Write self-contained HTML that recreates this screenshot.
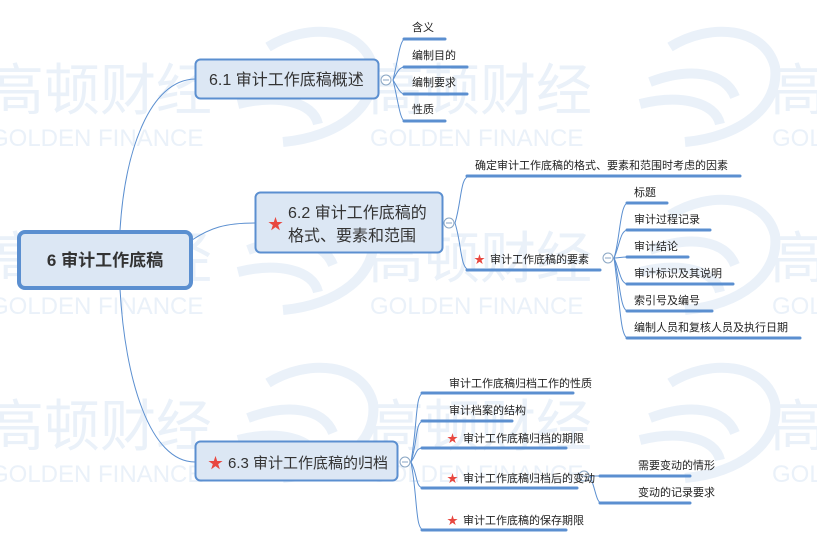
<!DOCTYPE html>
<html><head><meta charset="utf-8"><style>
html,body{margin:0;padding:0;background:#fff;}
svg{display:block;font-family:"Liberation Sans","Noto Sans CJK SC",sans-serif;}
</style></head><body>
<svg width="817" height="546" viewBox="0 0 817 546" xmlns="http://www.w3.org/2000/svg">
<defs>
<g id="wm">
 <path d="M-120,20 C-80,5 -45,10 -35,35" fill="none" stroke="#eaf1f9" stroke-width="10"/>
 <path d="M-130,42 C-90,32 -55,40 -50,62" fill="none" stroke="#eaf1f9" stroke-width="10"/>
 <path d="M-100,-15 C-60,-40 -5,-35 5,5 C10,45 -30,75 -85,80" fill="none" stroke="#eaf1f9" stroke-width="10"/>
 <text x="0" y="48" font-size="56" fill="#eaf1f9">高顿财经</text>
 <text x="2" y="84" font-size="24" fill="#eaf1f9">GOLDEN FINANCE</text>
</g>
</defs>
<g>
 <use href="#wm" x="-12" y="62"/><use href="#wm" x="368" y="62"/><use href="#wm" x="770" y="62"/>
 <use href="#wm" x="-12" y="230"/><use href="#wm" x="368" y="230"/><use href="#wm" x="770" y="230"/>
 <use href="#wm" x="-12" y="398"/><use href="#wm" x="368" y="398"/><use href="#wm" x="770" y="398"/>
</g>
<g fill="none" stroke="#5b8fd0" stroke-width="1">
 <path d="M120,230 C125,150 150,80 195,79"/>
 <path d="M192,240 C210,228 225,223 255,223"/>
 <path d="M120,289 C125,380 150,462 195,462"/>
 <path d="M393,80 C398,60 400,39 405,39"/>
 <path d="M393,80 C398,70 400,67 405,67"/>
 <path d="M393,80 C398,88 400,94 405,94"/>
 <path d="M393,80 C398,100 400,121 405,121"/>
 <path d="M455,223 C462,200 460,176 470,176"/>
 <path d="M455,223 C462,245 460,270 470,270"/>
 <path d="M614,258 C620,240 620,203 628,203"/>
 <path d="M614,258 C620,245 620,230 628,230"/>
 <path d="M614,258 C620,258 620,257 628,257"/>
 <path d="M614,258 C620,270 620,284 628,284"/>
 <path d="M614,258 C620,280 620,311 628,311"/>
 <path d="M614,258 C620,300 620,338 628,338"/>
 <path d="M411,462 C418,420 415,393 424,393"/>
 <path d="M411,462 C418,440 415,421 424,421"/>
 <path d="M411,462 C418,452 415,448 424,448"/>
 <path d="M411,462 C418,475 415,488 424,488"/>
 <path d="M411,462 C418,500 415,530 424,530"/>
 <path d="M590,476 C596,476 596,476 602,476"/>
 <path d="M590,476 C596,490 596,503 602,503"/>
</g>
<g stroke="#5b8fd0" stroke-width="3" stroke-linecap="round">
 <line x1="404" y1="39" x2="445" y2="39"/><line x1="404" y1="67" x2="467" y2="67"/>
 <line x1="404" y1="94" x2="467" y2="94"/><line x1="404" y1="121" x2="445" y2="121"/>
 <line x1="467" y1="176" x2="740" y2="176"/><line x1="467" y1="270" x2="600" y2="270"/>
 <line x1="627" y1="203" x2="667" y2="203"/><line x1="627" y1="230" x2="710" y2="230"/>
 <line x1="627" y1="257" x2="688" y2="257"/><line x1="627" y1="284" x2="733" y2="284"/>
 <line x1="627" y1="311" x2="712" y2="311"/><line x1="627" y1="338" x2="800" y2="338"/>
 <line x1="422" y1="393" x2="573" y2="393"/><line x1="422" y1="421" x2="512" y2="421"/>
 <line x1="422" y1="448" x2="566" y2="448"/><line x1="422" y1="488" x2="577" y2="488"/>
 <line x1="422" y1="530" x2="566" y2="530"/>
 <line x1="600" y1="476" x2="690" y2="476"/><line x1="600" y1="503" x2="690" y2="503"/>
</g>
<g fill="#fff" stroke="#8aa6c4" stroke-width="1">
 <circle cx="386" cy="80" r="5"/><circle cx="449" cy="223" r="5"/>
 <circle cx="608" cy="258" r="5"/><circle cx="405" cy="462" r="5"/><circle cx="584" cy="476" r="5"/>
</g>
<g stroke="#8aa6c4" stroke-width="1">
 <line x1="383" y1="80" x2="389" y2="80"/><line x1="446" y1="223" x2="452" y2="223"/>
 <line x1="605" y1="258" x2="611" y2="258"/><line x1="402" y1="462" x2="408" y2="462"/><line x1="581" y1="476" x2="587" y2="476"/>
</g>
<rect x="19" y="232" width="172" height="56" rx="6" fill="#dce7f4" stroke="#5b8fd0" stroke-width="4"/>
<text x="105" y="266" font-size="17" font-weight="bold" fill="#333" text-anchor="middle">6 审计工作底稿</text>
<rect x="195.5" y="59.5" width="183" height="39" rx="5" fill="#dce7f4" stroke="#5b8fd0" stroke-width="2"/>
<text x="209" y="85" font-size="16" fill="#333">6.1 审计工作底稿概述</text>
<rect x="255.5" y="192.5" width="187" height="60" rx="5" fill="#dce7f4" stroke="#5b8fd0" stroke-width="2"/>
<text x="288" y="218" font-size="16" fill="#333">6.2 审计工作底稿的</text>
<text x="288" y="241" font-size="16" fill="#333">格式、要素和范围</text>
<rect x="195.5" y="441.5" width="202" height="39" rx="5" fill="#dce7f4" stroke="#5b8fd0" stroke-width="2"/>
<text x="228" y="468" font-size="15" fill="#333">6.3 审计工作底稿的归档</text>
<g fill="#e8473f" font-size="15">
 <text x="268" y="229">★</text><text x="208" y="468">★</text>
</g>
<g fill="#e8473f" font-size="11">
 <text x="474" y="263">★</text><text x="447" y="442">★</text><text x="447" y="482">★</text><text x="447" y="524">★</text>
</g>
<g font-size="11" fill="#222">
 <text x="412" y="31">含义</text><text x="412" y="59">编制目的</text><text x="412" y="86">编制要求</text><text x="412" y="113">性质</text>
 <text x="475" y="169">确定审计工作底稿的格式、要素和范围时考虑的因素</text>
 <text x="490" y="263">审计工作底稿的要素</text>
 <text x="634" y="196">标题</text><text x="634" y="223">审计过程记录</text><text x="634" y="250">审计结论</text>
 <text x="634" y="277">审计标识及其说明</text><text x="634" y="304">索引号及编号</text><text x="634" y="331">编制人员和复核人员及执行日期</text>
 <text x="449" y="387">审计工作底稿归档工作的性质</text><text x="449" y="414">审计档案的结构</text>
 <text x="463" y="442">审计工作底稿归档的期限</text><text x="463" y="482">审计工作底稿归档后的变动</text>
 <text x="463" y="524">审计工作底稿的保存期限</text>
 <text x="638" y="469">需要变动的情形</text><text x="638" y="496">变动的记录要求</text>
</g>
</svg>
</body></html>
